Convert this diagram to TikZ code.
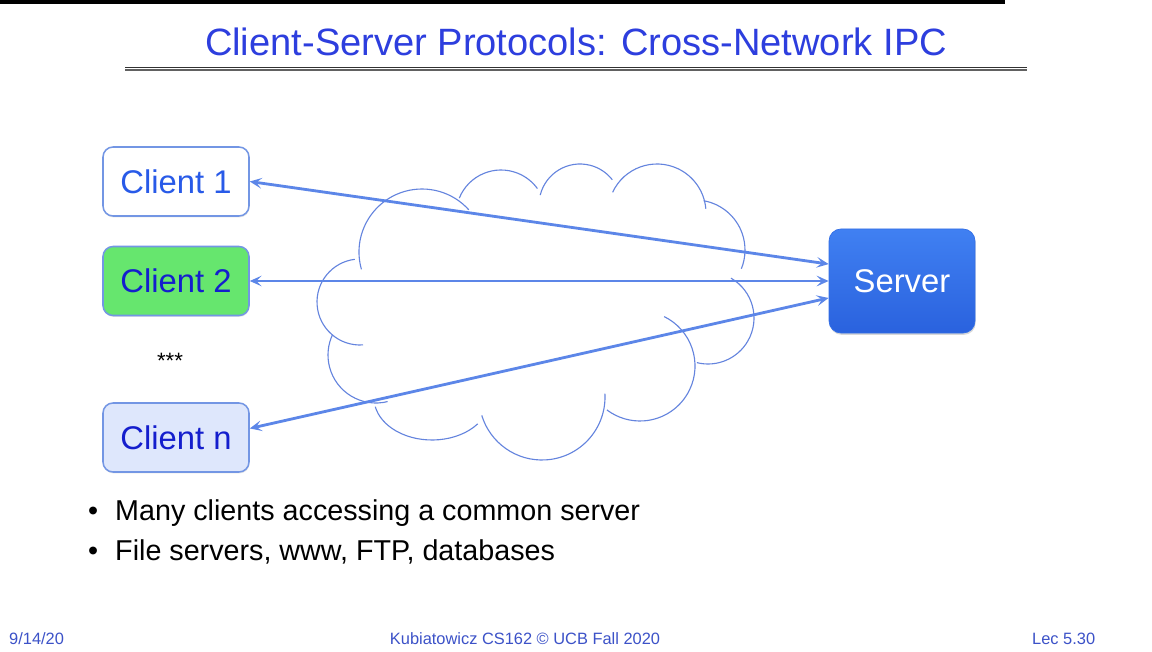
\documentclass[tikz,border=0pt]{standalone}
\usepackage{fontspec}
\setmainfont{Liberation Sans}
\usetikzlibrary{arrows.meta,shadows}
\definecolor{titleblue}{RGB}{45,62,222}
\definecolor{clientblue}{RGB}{40,90,232}
\definecolor{darkblue}{RGB}{20,30,205}
\definecolor{edgeblue}{RGB}{115,150,228}
\definecolor{linkblue}{RGB}{92,134,232}
\definecolor{cloudblue}{RGB}{100,132,222}
\definecolor{greenfill}{RGB}{102,230,110}
\definecolor{palefill}{RGB}{222,231,252}
\definecolor{footblue}{RGB}{60,82,200}

\tikzset{
  client/.style={draw=edgeblue,line width=1.3pt,rounded corners=0.3cm,
    minimum width=4.38cm,minimum height=2.07cm,font=\fontsize{28}{30}\selectfont,
    drop shadow={opacity=0.2,shadow xshift=0.4pt,shadow yshift=-1.2pt}},
  link/.style={linkblue,line width=2.4pt,{Stealth[length=3.6mm,width=3.2mm,inset=1.6mm]}-{Stealth[length=3.6mm,width=3.2mm,inset=1.6mm]}},
  cloudline/.style={cloudblue,line width=0.95pt},
  bullet/.style={anchor=base west,inner sep=0pt,font=\fontsize{24.5}{26}\selectfont},
  foot/.style={anchor=base,inner sep=0pt,footblue,font=\fontsize{14}{15}\selectfont}
}

\begin{document}
\begin{tikzpicture}[x=0.03cm,y=-0.03cm]
\useasboundingbox (0,0) rectangle (1152,652);
\fill[white] (0,0) rectangle (1152,652);

% heading
\fill[black] (0,0) rectangle (1005,4);
\node[anchor=base,inner sep=0pt,titleblue,font=\fontsize{32.5}{34}\selectfont] (title) at (576,56) {Client-Server Protocols: Cross-Network IPC};
\draw[black!80,line width=0.6pt] (125,67.6) -- (1027,67.6);
\draw[black!62,line width=1.4pt] (125,69.9) -- (1027,69.9);

% network cloud
\foreach \cx/\cy/\r/\a/\b in {422/252/63/164/318, 501/215/45/202/324, 580/205/41/194/322,
    657/213/49/205/355, 695/250/50/280/382, 708/318/46/300/464, 640/366/55/296/487,
    542/397/63/-3/163, 376/355/48/76/205, 360/302/43/86/263}
  \draw[cloudline] (\cx,\cy) ++(\a:\r) arc[start angle=\a,end angle=\b,radius=\r];
\draw[cloudline] (432,398) ++(38:58 and 42) arc[start angle=38,end angle=168,x radius=58,y radius=42];

% clients and server
\node[client,fill=white,text=clientblue] (c1) at (176,181.5) {Client 1};
\node[client,fill=greenfill,text=darkblue] (c2) at (176,281) {Client 2};
\node[client,fill=palefill,text=darkblue] (cn) at (176,437.5) {Client n};
\node[font=\fontsize{19}{20}\selectfont] (dots) at (170,361) {***};
\node[rounded corners=0.36cm,minimum width=4.38cm,minimum height=3.12cm,
  top color={rgb,255:red,64;green,128;blue,242},bottom color={rgb,255:red,42;green,98;blue,222},
  draw={rgb,255:red,50;green,110;blue,230},line width=0.6pt,text=white,
  font=\fontsize{28}{30}\selectfont,
  drop shadow={opacity=0.3,shadow xshift=0.6pt,shadow yshift=-1.6pt}] (srv) at (902,281) {Server};

% connections
\draw[link] (c1.east) -- (srv.167.6);
\draw[link] (c2.east) -- (srv.west);
\draw[link] (cn.7) -- (srv.193);

% bullets
\node[bullet] (b1) at (88,520) {•};
\node[bullet] (t1) at (115,520) {Many clients accessing a common server};
\node[bullet] (b2) at (88,560) {•};
\node[bullet] (t2) at (115,560) {File servers, www, FTP, databases};

% footer
\node[foot,anchor=base west] (date) at (9,644) {9/14/20};
\node[foot] (credit) at (525,644) {Kubiatowicz CS162 © UCB Fall 2020};
\node[foot,anchor=base west] (lec) at (1032,644) {Lec 5.30};
\end{tikzpicture}
\end{document}
